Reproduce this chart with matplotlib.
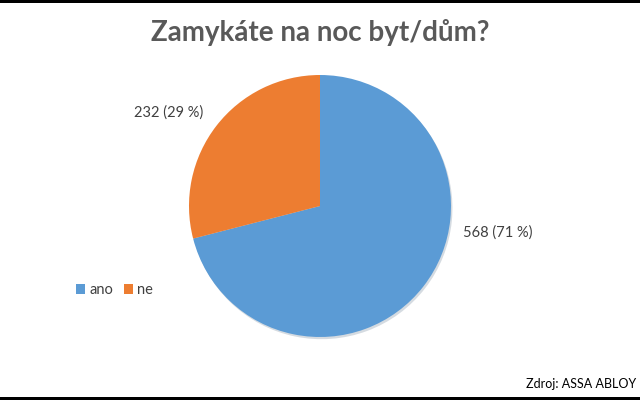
import matplotlib
matplotlib.use("Agg")
import matplotlib.pyplot as plt
from matplotlib.patches import Rectangle

# data
categories = ["ano", "ne"]
values = [568, 232]
percents = [71, 29]
colors = ["#5B9BD5", "#ED7D31"]

plt.rcParams['font.family'] = ['Lato', 'DejaVu Sans']

fig = plt.figure(figsize=(6.4, 4.0), dpi=100)
fig.patch.set_facecolor("white")

# black bands top and bottom
fig.patches.append(Rectangle((0, 1 - 2.5/400), 1, 2.5/400, transform=fig.transFigure,
                             facecolor="black", edgecolor="none", zorder=10))
fig.patches.append(Rectangle((0, 0), 1, 3.5/400, transform=fig.transFigure,
                             facecolor="black", edgecolor="none", zorder=10))

cx, cy, r = 320, 206, 131
ax = fig.add_axes([(cx - r)/640, (400 - cy - r)/400, 2*r/640, 2*r/400])
wedges, _ = ax.pie(values, colors=colors, startangle=90, counterclock=False,
                   radius=1.0, wedgeprops=dict(linewidth=0),
                   shadow=dict(ox=0.008, oy=-0.012, shade=0.5, alpha=0.2))
ax.set_aspect("equal")
ax.set_xlim(-1, 1)
ax.set_ylim(-1, 1)
ax.axis("off")

labels = ["%d (%d %%)" % (v, p) for v, p in zip(values, percents)]
# data labels
ax.text(1.09, -0.20, labels[0], ha="left", va="center",
        fontsize=10.5, color="#404040", clip_on=False)
ax.text(-0.89, 0.71, labels[1], ha="right", va="center",
        fontsize=10.5, color="#404040", clip_on=False)

fig.text(0.5, 1 - 33/400, "Zamykáte na noc byt/dům?", ha="center", va="center",
         fontsize=20, fontweight="bold", color="#595959")

leg = fig.legend(wedges, categories, loc="center left", bbox_to_anchor=(76/640, 1 - 290/400),
                 ncol=2, frameon=False, fontsize=10.5, handlelength=0.6, handleheight=0.7,
                 handletextpad=0.3, columnspacing=0.75, labelcolor="#404040",
                 borderpad=0, borderaxespad=0)

fig.text(1 - 4/640, 1 - 384/400, "Zdroj: ASSA ABLOY", ha="right", va="center",
         fontsize=9, color="black")

fig.savefig("out.png", dpi=100)
